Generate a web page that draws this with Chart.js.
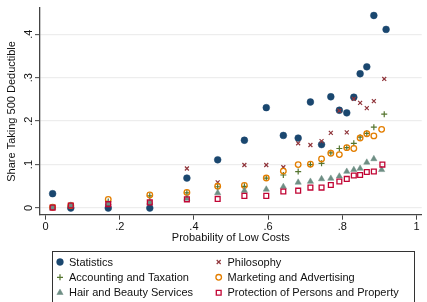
<!DOCTYPE html>
<html><head><meta charset="utf-8">
<script src="https://cdn.jsdelivr.net/npm/chart.js@4/dist/chart.umd.min.js"></script>
<style>html,body{margin:0;padding:0;background:#fff;overflow:hidden;}</style>
</head><body>
<canvas id="c" width="427" height="302" style="display:block;width:427px;height:302px"></canvas>
<script>
const seriesNames = ["Statistics","Philosophy","Accounting and Taxation","Marketing and Advertising","Hair and Beauty Services","Protection of Persons and Property"];
const xProb = [0.019,0.068,0.169,0.281,0.381,0.464,0.536,0.595,0.641,0.681,0.714,0.744,0.769,0.792,0.812,0.831,0.848,0.866,0.885];
const lastProb = [0.918,0.913,0.913,0.906,0.906,0.908];
const statistics = [0.033,0,0,0,0.069,0.111,0.156,0.231,0.167,0.161,0.244,0.146,0.256,0.225,0.219,0.255,0.309,0.325,0.443,0.411];
const philosophy = [0.002,0.004,0.008,0.012,0.091,0.059,0.099,0.099,0.094,0.149,0.145,0.154,0.173,0.224,0.174,0.251,0.242,0.230,0.246,0.297];
const accounting = [0.002,0.005,0.015,0.028,0.035,0.049,0.050,0.069,0.076,0.084,0.100,0.103,0.127,0.137,0.139,0.149,0.163,0.172,0.186,0.216];
const marketing = [0.002,0.006,0.020,0.030,0.036,0.050,0.052,0.069,0.085,0.100,0.101,0.113,0.126,0.123,0.139,0.137,0.161,0.171,0.166,0.181];
const hair = [0.001,0.006,0.011,0.013,0.022,0.035,0.040,0.043,0.049,0.059,0.061,0.067,0.068,0.073,0.084,0.088,0.091,0.105,0.113,0.088];
const protection = [0.001,0.006,0.009,0.013,0.020,0.021,0.028,0.028,0.038,0.040,0.047,0.047,0.053,0.061,0.067,0.075,0.076,0.083,0.084,0.100];
const xTicks = [0,0.2,0.4,0.6,0.8,1];
const yTicks = [0,0.1,0.2,0.3,0.4];

const values = [statistics,philosophy,accounting,marketing,hair,protection];
const styles = [
  {pointStyle:'circle', radius:3.4, bg:'#1a476f', border:'#1a476f', bw:0.5},
  {pointStyle:'crossRot', radius:2.8, bg:'#90353b', border:'#90353b', bw:1.2},
  {pointStyle:'cross', radius:3, bg:'#55752f', border:'#55752f', bw:1.2},
  {pointStyle:'circle', radius:2.8, bg:'rgba(0,0,0,0)', border:'#e37e00', bw:1.3},
  {pointStyle:'triangle', radius:3.6, bg:'#6e8e84', border:'#6e8e84', bw:0.5},
  {pointStyle:'rect', radius:3.4, bg:'rgba(0,0,0,0)', border:'#c10534', bw:1.3}
];
const datasets = seriesNames.map((name, s) => ({
  label: name,
  data: values[s].map((v, i) => ({x: i < xProb.length ? xProb[i] : lastProb[s], y: v})),
  pointStyle: styles[s].pointStyle,
  pointRadius: styles[s].radius,
  pointBackgroundColor: styles[s].bg,
  pointBorderColor: styles[s].border,
  pointBorderWidth: styles[s].bw,
  showLine: false,
  order: 6 - s
}));

const fmt = v => v === 0 ? '0' : (v === 1 ? '1' : String(+v.toFixed(1)).replace(/^0\./, '.'));
const FONT = "'Liberation Sans', Arial, sans-serif";

const legendPlugin = {
  id: 'stataLegend',
  afterDraw(chart) {
    const ctx = chart.ctx;
    ctx.save();
    ctx.strokeStyle = '#333';
    ctx.lineWidth = 1;
    ctx.strokeRect(52.5, 251.5, 362, 60);
    ctx.font = '11px ' + FONT;
    ctx.fillStyle = '#111';
    ctx.textBaseline = 'middle';
    ctx.textAlign = 'left';
    const rowsY = [262, 277.3, 292.7];
    const colMx = [60, 218.7];
    const colTx = [69, 227.5];
    seriesNames.forEach((name, s) => {
      const r = Math.floor(s / 2), c = s % 2;
      const st = styles[s];
      ctx.save();
      ctx.fillStyle = st.bg; ctx.strokeStyle = st.border; ctx.lineWidth = st.bw;
      Chart.helpers.drawPoint(ctx, {pointStyle: st.pointStyle, radius: st.radius, rotation: 0, borderWidth: st.bw}, colMx[c], rowsY[r]);
      ctx.restore();
      ctx.fillText(name, colTx[c], rowsY[r] + 0.5);
    });
    ctx.restore();
  }
};

new Chart(document.getElementById('c'), {
  type: 'scatter',
  data: {datasets},
  plugins: [legendPlugin],
  options: {
    responsive: false,
    animation: false,
    devicePixelRatio: 1,
    layout: {padding: {left: 0, right: 1, top: 6, bottom: 57.3}},
    plugins: {legend: {display: false}, tooltip: {enabled: false}},
    scales: {
      x: {
        type: 'linear', min: -0.015, max: 1.014,
        afterBuildTicks: sc => { sc.ticks = xTicks.map(v => ({value: v})); },
        afterFit: sc => { sc.height = 30; },
        ticks: {callback: v => fmt(v), font: {family: FONT, size: 11}, color: '#111', padding: 1, maxRotation: 0, autoSkip: false},
        grid: {drawOnChartArea: false, drawTicks: true, tickLength: 5, tickColor: '#444', tickWidth: 1},
        border: {display: true, color: '#444', width: 1.3},
        title: {display: true, text: 'Probability of Low Costs', font: {family: FONT, size: 11}, color: '#111', padding: {top: 0, bottom: 0}}
      },
      y: {
        type: 'linear', min: -0.0153, max: 0.46,
        afterBuildTicks: sc => { sc.ticks = yTicks.map(v => ({value: v})); },
        afterFit: sc => { sc.width = 40; },
        ticks: {callback: v => fmt(v), font: {family: FONT, size: 11}, color: '#111', padding: 1.5, minRotation: 90, maxRotation: 90, crossAlign: 'center', autoSkip: false},
        grid: {drawOnChartArea: true, color: '#ededed', lineWidth: 1.3, drawTicks: true, tickLength: 5, tickColor: '#444', tickWidth: 1},
        border: {display: true, color: '#444', width: 1.3},
        title: {display: true, text: 'Share Taking 500 Deductible', font: {family: FONT, size: 11}, color: '#111', padding: {top: 5, bottom: 0}}
      }
    }
  }
});
</script>
</body></html>
